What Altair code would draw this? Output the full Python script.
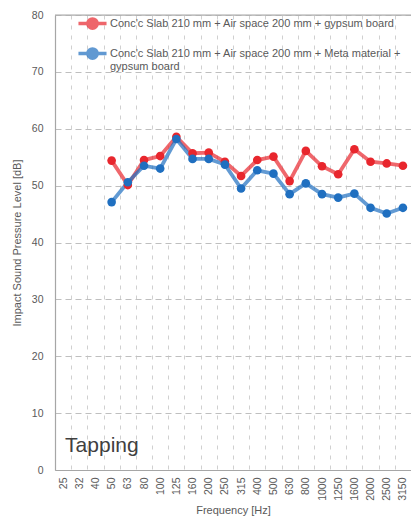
import altair as alt
import pandas as pd

freqs = ["25", "32", "40", "50", "63", "80", "100", "125", "160", "200", "250", "315",
         "400", "500", "630", "800", "1000", "1250", "1600", "2000", "2500", "3150"]
data_freqs = ["50", "63", "80", "100", "125", "160", "200", "250", "315", "400", "500",
              "630", "800", "1000", "1250", "1600", "2000", "2500", "3150"]
red_vals = [54.4, 50.1, 54.5, 55.2, 58.6, 55.7, 55.8, 54.2, 51.7, 54.5, 55.1,
            50.8, 56.1, 53.4, 52.0, 56.4, 54.2, 53.9, 53.5]
blue_vals = [47.1, 50.6, 53.5, 53.0, 58.2, 54.7, 54.7, 53.7, 49.5, 52.7, 52.1,
             48.5, 50.4, 48.5, 47.9, 48.6, 46.1, 45.1, 46.1]
series_names = ["Conc'c Slab 210 mm + Air space 200 mm + gypsum board",
                "Conc'c Slab 210 mm + Air space 200 mm + Meta material + gypsum board"]
series_colors = ["#E8262D", "#1F6FC0"]
y_ticks = [0, 10, 20, 30, 40, 50, 60, 70, 80]

rows = []
for f, v in zip(data_freqs, red_vals):
    rows.append({"freq": f, "level": v, "series": series_names[0]})
for f, v in zip(data_freqs, blue_vals):
    rows.append({"freq": f, "level": v, "series": series_names[1]})
df = pd.DataFrame(rows)

FONT = "Liberation Sans"
GREY = "#595959"

xscale = alt.Scale(type="band", domain=freqs, paddingInner=0, paddingOuter=0)
yscale = alt.Scale(domain=[0, 80], nice=False, zero=True)

x_enc = alt.X("freq:O", scale=xscale, sort=freqs,
              axis=alt.Axis(title="Frequency [Hz]", labelAngle=270, labelAlign="right",
                            labelBaseline="middle", labelPadding=7, ticks=False,
                            tickBand="extent", grid=True, gridDash=[4, 6],
                            gridColor="#D0D0D0", gridWidth=1,
                            domainColor="#A6A6A6", domainWidth=1.2,
                            labelColor=GREY, labelFontSize=10.5, labelFont=FONT,
                            titleColor=GREY, titleFontSize=11, titleFont=FONT,
                            titleFontWeight="normal", titlePadding=4))
y_enc = alt.Y("level:Q", scale=yscale,
              axis=alt.Axis(title="Impact Sound Pressure Level [dB]", values=y_ticks,
                            ticks=False, labelPadding=12, grid=True, gridDash=[6, 4],
                            gridColor="#BFBFBF", gridWidth=1,
                            domainColor="#A6A6A6", domainWidth=1.2,
                            labelColor=GREY, labelFontSize=10.5, labelFont=FONT,
                            titleColor=GREY, titleFontSize=11, titleFont=FONT,
                            titleFontWeight="normal", titlePadding=9))

color_enc = alt.Color("series:N",
                      scale=alt.Scale(domain=series_names, range=series_colors),
                      legend=alt.Legend(
                          title=None, orient="none", legendX=26, legendY=-9,
                          labelFont=FONT, labelFontSize=11, labelColor=GREY,
                          labelLimit=400, rowPadding=-3, labelBaseline="top", labelOffset=6,
                          labelExpr="datum.index == 1 ? ['Conc\\'c Slab 210 mm + Air space 200 mm + Meta material +', 'gypsum board'] : datum.label",
                          symbolType="M-1.5,0.65H1.5M-0.5,0.65A0.5,0.5,0,1,1,0.5,0.65A0.5,0.5,0,1,1,-0.5,0.65",
                          symbolSize=350, symbolStrokeWidth=3.5))

base = alt.Chart(df)
lines = base.mark_line(strokeWidth=3.8, opacity=0.7).encode(x=x_enc, y=y_enc, color=color_enc)
points = base.mark_point(filled=True, size=75, opacity=1).encode(
    x=alt.X("freq:O", scale=xscale, sort=freqs), y="level:Q", color=color_enc)

top_border = alt.Chart(pd.DataFrame({"v": [80]})).mark_rule(color="#A6A6A6", strokeWidth=1.2).encode(
    y=alt.Y("v:Q", scale=yscale))

label = alt.Chart(pd.DataFrame({"t": ["Tapping"], "f": ["25"], "v": [3.2]})).mark_text(
    align="left", baseline="alphabetic", fontSize=21, font=FONT, color="#404040", dx=2
).encode(x=alt.X("f:O", scale=xscale, sort=freqs), y=alt.Y("v:Q", scale=yscale), text="t:N")

chart = alt.layer(lines, points, top_border, label).properties(
    width=356, height=455,
    autosize=alt.AutoSizeParams(type="none"),
    padding={"left": 47, "top": 7, "right": 0, "bottom": 46},
).configure_view(stroke=None).configure(background="white")

chart.save("out.html", embed_options={"renderer": "svg", "actions": False})
